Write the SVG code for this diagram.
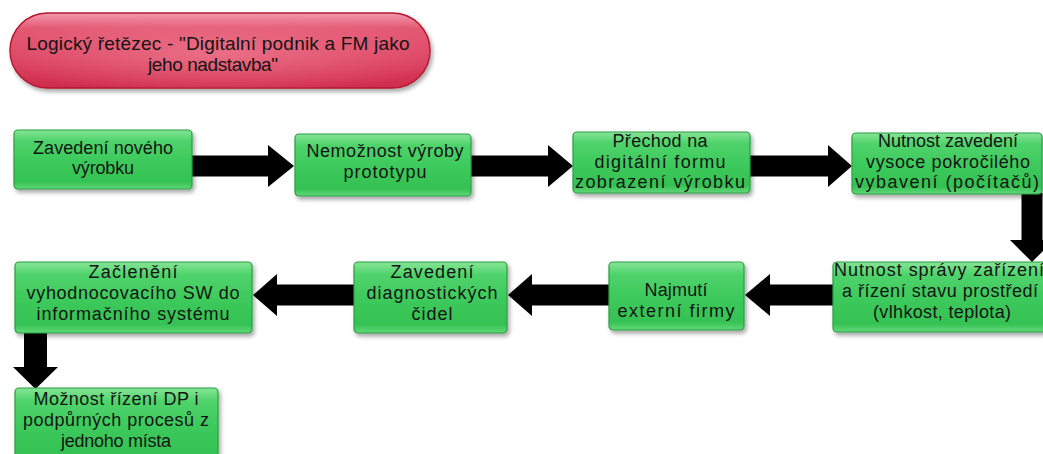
<svg xmlns="http://www.w3.org/2000/svg" width="1043" height="454" viewBox="0 0 1043 454">
  <defs>
    <linearGradient id="gGreen" x1="0" y1="0" x2="0" y2="1">
      <stop offset="0" stop-color="#86e596"/>
      <stop offset="0.18" stop-color="#4fd36b"/>
      <stop offset="0.55" stop-color="#3cc95b"/>
      <stop offset="0.88" stop-color="#35c253"/>
      <stop offset="1" stop-color="#62d879"/>
    </linearGradient>
    <linearGradient id="gRed" x1="0" y1="0" x2="0" y2="1">
      <stop offset="0" stop-color="#f29aab"/>
      <stop offset="0.2" stop-color="#e45a75"/>
      <stop offset="0.6" stop-color="#dc4563"/>
      <stop offset="1" stop-color="#cf2b4c"/>
    </linearGradient>
    <radialGradient id="gRedGlow" cx="0.5" cy="0.55" r="0.55">
      <stop offset="0" stop-color="#f07e93" stop-opacity="0.7"/>
      <stop offset="1" stop-color="#f07e93" stop-opacity="0"/>
    </radialGradient>
    <filter id="shadow" x="-10%" y="-10%" width="125%" height="135%">
      <feDropShadow dx="2" dy="3" stdDeviation="2" flood-color="#000" flood-opacity="0.35"/>
    </filter>
  </defs>
  <style>
    .box { fill: url(#gGreen); stroke: #2a9e40; stroke-width: 1.2; filter: url(#shadow); }
    .pill { fill: url(#gRed); stroke: #b3172f; stroke-width: 1.5; filter: url(#shadow); }
    .glow { fill: url(#gRedGlow); }
    .lbl { font-family: "Liberation Sans", Arial, sans-serif; font-size: 18px; fill: #141414; text-anchor: middle; }
    .ttl { font-size: 19px; }
    .arrow { fill: #000; }
  </style>

  <rect width="1043" height="454" fill="#ffffff"/>

  <!-- title -->
  <g id="title">
    <rect class="pill" x="10" y="13" width="420" height="75" rx="37.5"/>
    <rect class="glow" x="10" y="13" width="420" height="75" rx="37.5"/>
    <text class="lbl ttl" x="218" y="50" textLength="383" lengthAdjust="spacing">Logický řetězec - "Digitalní podnik a FM jako</text>
    <text class="lbl ttl" x="213" y="71" textLength="130" lengthAdjust="spacing">jeho nadstavba"</text>
  </g>

  <!-- connectors -->
  <g id="connectors">
    <polygon class="arrow" points="192,155.5 268,155.5 268,145 294,166 268,187 268,176.5 192,176.5"/>
    <polygon class="arrow" points="471,155.5 548,155.5 548,145 573,166 548,187 548,176.5 471,176.5"/>
    <polygon class="arrow" points="750,155.5 828,155.5 828,145 852,166 828,187 828,176.5 750,176.5"/>
    <polygon class="arrow" points="1021.5,193 1042.5,193 1042.5,240 1054,240 1032,262 1010,240 1021.5,240"/>
    <polygon class="arrow" points="833,284.5 770,284.5 770,274 745,295 770,316 770,305.5 833,305.5"/>
    <polygon class="arrow" points="609,284.5 532,284.5 532,274 508,295 532,316 532,305.5 609,305.5"/>
    <polygon class="arrow" points="354,284.5 277,284.5 277,274 253,295 277,316 277,305.5 354,305.5"/>
    <polygon class="arrow" points="24,333 47,333 47,367 58,367 35.5,389 13,367 24,367"/>
  </g>

  <!-- row 1 -->
  <g id="n1">
    <rect class="box" x="14" y="130" width="178" height="59" rx="4"/>
    <text class="lbl" x="103" y="154" textLength="140" lengthAdjust="spacing">Zavedení nového</text>
    <text class="lbl" x="103" y="174" textLength="62" lengthAdjust="spacing">výrobku</text>
  </g>
  <g id="n2">
    <rect class="box" x="295" y="134" width="176" height="62" rx="4"/>
    <text class="lbl" x="385" y="157" textLength="157" lengthAdjust="spacing">Nemožnost výroby</text>
    <text class="lbl" x="385" y="178" textLength="83" lengthAdjust="spacing">prototypu</text>
  </g>
  <g id="n3">
    <rect class="box" x="573" y="132" width="177" height="61" rx="4"/>
    <text class="lbl" x="660" y="147" textLength="95" lengthAdjust="spacing">Přechod na</text>
    <text class="lbl" x="660" y="168" textLength="131" lengthAdjust="spacing">digitální formu</text>
    <text class="lbl" x="660" y="188" textLength="170" lengthAdjust="spacing">zobrazení výrobku</text>
  </g>
  <g id="n4">
    <rect class="box" x="852" y="133" width="190" height="61" rx="4"/>
    <text class="lbl" x="948" y="147" textLength="140" lengthAdjust="spacing">Nutnost zavedení</text>
    <text class="lbl" x="948" y="168" textLength="164" lengthAdjust="spacing">vysoce pokročilého</text>
    <text class="lbl" x="947" y="188" textLength="184" lengthAdjust="spacing">vybavení (počítačů)</text>
  </g>

  <!-- row 2 -->
  <g id="n5">
    <rect class="box" x="833" y="262" width="215" height="70" rx="4"/>
    <text class="lbl" x="939" y="276" textLength="210" lengthAdjust="spacing">Nutnost správy zařízení</text>
    <text class="lbl" x="940" y="297" textLength="196" lengthAdjust="spacing">a řízení stavu prostředí</text>
    <text class="lbl" x="942" y="318" textLength="138" lengthAdjust="spacing">(vlhkost, teplota)</text>
  </g>
  <g id="n6">
    <rect class="box" x="609" y="262" width="135" height="68" rx="4"/>
    <text class="lbl" x="676" y="296" textLength="63" lengthAdjust="spacing">Najmutí</text>
    <text class="lbl" x="676" y="317" textLength="117" lengthAdjust="spacing">externí firmy</text>
  </g>
  <g id="n7">
    <rect class="box" x="354" y="262" width="153" height="71" rx="4"/>
    <text class="lbl" x="432" y="278" textLength="83" lengthAdjust="spacing">Zavedení</text>
    <text class="lbl" x="432" y="299" textLength="131" lengthAdjust="spacing">diagnostických</text>
    <text class="lbl" x="432" y="320" textLength="41" lengthAdjust="spacing">čidel</text>
  </g>
  <g id="n8">
    <rect class="box" x="15" y="262" width="237" height="71" rx="4"/>
    <text class="lbl" x="133" y="278" textLength="89" lengthAdjust="spacing">Začlenění</text>
    <text class="lbl" x="133" y="299" textLength="213" lengthAdjust="spacing">vyhodnocovacího SW do</text>
    <text class="lbl" x="133" y="320" textLength="193" lengthAdjust="spacing">informačního systému</text>
  </g>

  <!-- final step -->
  <g id="n9">
    <rect class="box" x="15" y="388" width="203" height="74" rx="4"/>
    <text class="lbl" x="116" y="405" textLength="165" lengthAdjust="spacing">Možnost řízení DP i</text>
    <text class="lbl" x="116" y="426" textLength="186" lengthAdjust="spacing">podpůrných procesů z</text>
    <text class="lbl" x="116" y="447" textLength="110" lengthAdjust="spacing">jednoho místa</text>
  </g>
</svg>
